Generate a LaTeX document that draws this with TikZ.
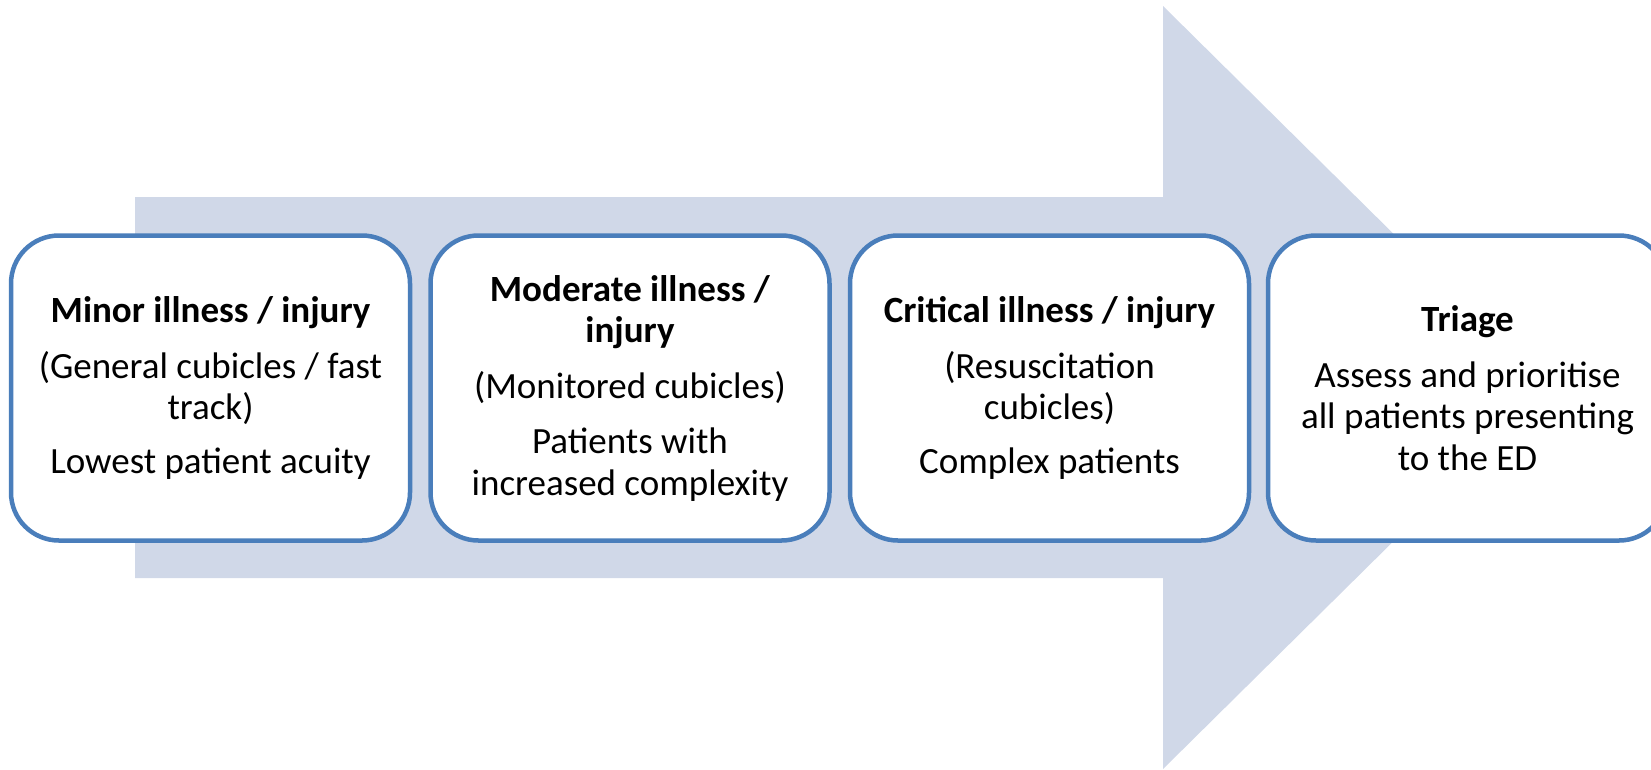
\documentclass[tikz,border=0pt]{standalone}
\usepackage{fontspec}
\setmainfont{Carlito}
\definecolor{arrowfill}{RGB}{208,216,232}
\definecolor{boxline}{RGB}{74,126,187}
\tikzset{
  stage/.style={draw=boxline, line width=4.5pt, fill=white, rounded corners=48pt,
    minimum width=399pt, minimum height=305pt, inner sep=0pt, align=center,
    font=\fontsize{37}{41.5}\selectfont},
}
\begin{document}
\begin{tikzpicture}[x=1pt,y=-1pt]
\useasboundingbox (0,0) rectangle (1651,769);
\begin{scope}
\clip (0,0) rectangle (1651,769);
\fill[arrowfill] (135,197) -- (1163,197) -- (1163,6) -- (1549,387.5) -- (1163,769) -- (1163,578) -- (135,578) -- cycle;
\node[stage] (minor) at (210.5,388) {\textbf{Minor illness / injury}\\[14pt](General cubicles / fast\\track)\\[12pt]Lowest patient acuity};
\node[stage] (moderate) at (630,388) {\textbf{Moderate illness /}\\\textbf{injury}\\[14pt](Monitored cubicles)\\[14pt]Patients with\\increased complexity};
\node[stage] (critical) at (1049.5,388) {\textbf{Critical illness / injury}\\[14pt](Resuscitation\\cubicles)\\[12pt]Complex patients};
\node[stage] (triage) at (1467.5,388) {\textbf{Triage}\\[14pt]Assess and prioritise\\all patients presenting\\to the ED};
\end{scope}
\end{tikzpicture}
\end{document}
